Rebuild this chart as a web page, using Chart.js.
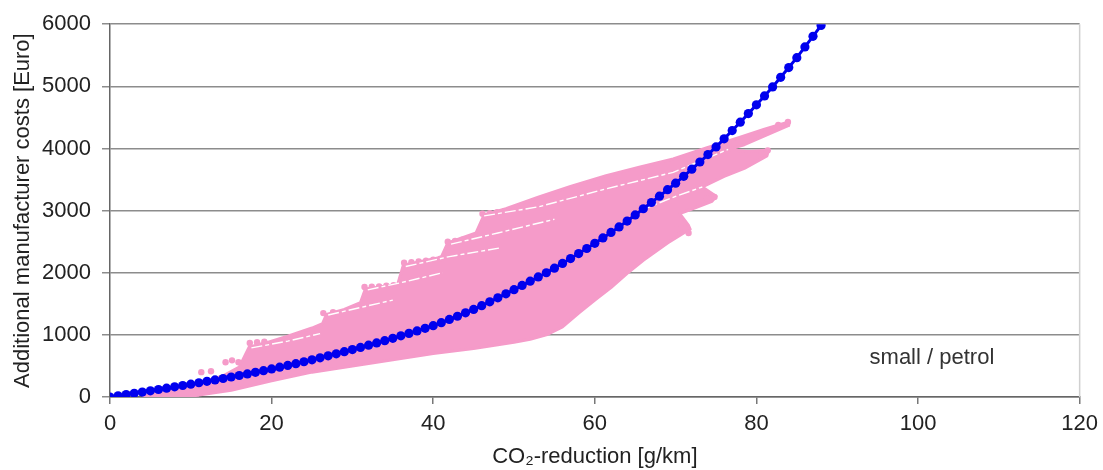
<!DOCTYPE html>
<html>
<head>
<meta charset="utf-8">
<script src="https://cdn.jsdelivr.net/npm/chart.js@4.4.1/dist/chart.umd.min.js"></script>
<style>
  html, body { margin: 0; padding: 0; background: #fff; }
  canvas { display: block; }
</style>
</head>
<body>
<canvas id="costChart" width="1103" height="470"></canvas>
<script>
// Blue curve: cost per CO2 reduction step (one point per g/km)
const curveX = [0,1,2,3,4,5,6,7,8,9,10,11,12,13,14,15,16,17,18,19,20,21,22,23,24,25,26,27,28,29,
    30,31,32,33,34,35,36,37,38,39,40,41,42,43,44,45,46,47,48,49,50,51,52,53,54,55,56,57,58,59,
    60,61,62,63,64,65,66,67,68,69,70,71,72,73,74,75,76,77,78,79,80,81,82,83,84,85,86,87,88];
const curveY = [0,20,40,60,80,100,121,142,163,185,207,229,252,275,298,322,346,371,397,424,
    452,480,508,537,567,598,630,662,695,729,763,798,834,870,907,945,984,1024,1064,1105,
    1148,1196,1248,1300,1355,1410,1470,1532,1596,1660,1727,1795,1864,1932,2000,2074,2150,2228,2308,2390,
    2474,2560,2648,2738,2832,2930,3030,3130,3232,3336,3442,3552,3666,3782,3902,4025,4155,4288,4423,4561,
    4702,4845,4990,5145,5302,5462,5635,5805,5980];

// Outline of the pink cloud of individual cases (upper edge, right-hand streak ends, lower edge)
const cloudX = [4,5,8,11,14,16,17.2,19.5,22,25,26.3,26.8,29,31,31.6,35.6,36.3,41,41.8,45.3,46.3,49,53,57,61.4,65.5,69.7,73.8,77.9,81,84,
    84,81.5,78.5,76.5,79,81.5,81.3,78.5,76,73.3,75,74.5,72.5,70.5,71.6,71.8,71,
    69,66,64,62,60,58,56,54,52,50,45,40,35,30,25,20,15,11,9,4];
const cloudY = [0,60,130,230,340,480,800,880,980,1110,1180,1330,1410,1520,1740,1810,2120,2250,2480,2640,2930,3030,3215,3390,3563,3700,3830,4010,4177,4310,4425,
    4370,4230,4060,3985,3950,3975,3880,3680,3550,3380,3230,3150,3050,2950,2760,2700,2640,
    2480,2200,1990,1760,1560,1350,1130,1000,930,880,780,700,600,500,400,260,110,30,0,0];

// Loose cases at the start of each streak
const looseX = [11.3,12.5,14.3,15.1,15.9,17.3,18.2,19.1,26.4,27.6,31.5,32.4,33.3,34.2,35.1,
    36.4,37.3,38.2,39.1,40,40.9,41.8,42.7,43.6,44.5,46.1,47,47.9,48.8,70.2,71.2,71.6,73.9,74.8,80.6,81.4,82.7,83.9];
const looseY = [400,415,560,590,560,870,880,890,1350,1365,1770,1775,1780,1790,1800,
    2160,2170,2180,2195,2210,2225,2500,2510,2530,2560,2950,2960,2975,2990,2700,2710,2640,3200,3220,3920,3970,4380,4425];

// White gaps between streaks, each starting at a streak tip
const gap1X = [46.3,53,61.4,69.7,76.5];
const gap1Y = [2915,3060,3350,3616,3985];
const gap2X = [42.2,48,55];
const gap2Y = [2460,2640,2860];
const gap3X = [36.6,42,48.3];
const gap3Y = [2100,2260,2400];
const gap4X = [31.9,36,41.2];
const gap4Y = [1725,1840,2000];
const gap5X = [27,31,35];
const gap5Y = [1320,1440,1560];
const gap6X = [17.5,22,26];
const gap6Y = [790,900,1020];
const gap7X = [65.6,70,73.3];
const gap7Y = [3000,3230,3380];

const xTicks = [0, 20, 40, 60, 80, 100, 120];
const yTicks = [0, 1000, 2000, 3000, 4000, 5000, 6000];

const pink = 'rgb(245,155,201)';
const blue = '#0000ee';
const font = "'Liberation Sans', Arial, sans-serif";

function toPoints(xs, ys) {
    return xs.map((x, i) => ({ x: x, y: ys[i] }));
}

function gapSet(xs, ys) {
    return {
        data: toPoints(xs, ys),
        borderColor: '#ffffff',
        borderWidth: 1.4,
        borderDash: [11, 3, 4, 3],
        pointRadius: 0,
        fill: false,
        order: 1
    };
}

// right frame line and the "small / petrol" note
const frameAndNote = {
    id: 'frameAndNote',
    beforeDatasetsDraw(chart) {
        const { ctx, chartArea } = chart;
        ctx.save();
        ctx.strokeStyle = '#d0d0d0';
        ctx.lineWidth = 1.5;
        ctx.beginPath();
        ctx.moveTo(chartArea.right, chartArea.top);
        ctx.lineTo(chartArea.right, chartArea.bottom);
        ctx.stroke();
        ctx.restore();
    },
    afterDatasetsDraw(chart) {
        const { ctx, scales } = chart;
        ctx.save();
        ctx.fillStyle = '#333';
        ctx.font = '22px ' + font;
        ctx.textAlign = 'left';
        ctx.textBaseline = 'middle';
        ctx.fillText('small / petrol', scales.x.getPixelForValue(94), scales.y.getPixelForValue(625));
        ctx.restore();
    }
};

new Chart(document.getElementById('costChart'), {
    type: 'line',
    data: {
        datasets: [
            {
                data: toPoints(curveX, curveY),
                borderColor: blue,
                backgroundColor: blue,
                borderWidth: 3,
                pointRadius: 4.6,
                pointBorderWidth: 0,
                fill: false,
                order: 0
            },
            gapSet(gap1X, gap1Y),
            gapSet(gap2X, gap2Y),
            gapSet(gap3X, gap3Y),
            gapSet(gap4X, gap4Y),
            gapSet(gap5X, gap5Y),
            gapSet(gap6X, gap6Y),
            gapSet(gap7X, gap7Y),
            {
                data: toPoints(looseX, looseY),
                showLine: false,
                pointRadius: 3.2,
                pointBorderWidth: 0,
                backgroundColor: pink,
                borderColor: pink,
                order: 2
            },
            {
                data: toPoints(cloudX, cloudY),
                borderColor: pink,
                backgroundColor: pink,
                borderWidth: 3,
                borderJoinStyle: 'round',
                pointRadius: 0,
                fill: 'shape',
                order: 3
            }
        ]
    },
    options: {
        responsive: false,
        animation: false,
        layout: {
            padding: { top: 23, right: 23, left: 0, bottom: 0 }
        },
        plugins: {
            legend: { display: false },
            tooltip: { enabled: false }
        },
        scales: {
            x: {
                type: 'linear',
                min: 0,
                max: 120,
                afterBuildTicks: scale => { scale.ticks = xTicks.map(v => ({ value: v })); },
                afterFit: scale => { scale.height = 73; },
                grid: {
                    drawOnChartArea: false,
                    drawTicks: true,
                    tickLength: 7,
                    color: '#777',
                    lineWidth: 1.5
                },
                border: { color: '#666', width: 1.5 },
                ticks: {
                    padding: 5,
                    color: '#222',
                    font: { size: 22, family: font, lineHeight: 1.4 },
                    callback: value => String(value)
                },
                title: {
                    display: true,
                    text: 'CO\u2082-reduction [g/km]',
                    color: '#222',
                    font: { size: 22, family: font },
                    padding: { top: 0, bottom: 0 }
                }
            },
            y: {
                min: 0,
                max: 6000,
                afterBuildTicks: scale => { scale.ticks = yTicks.map(v => ({ value: v })); },
                afterFit: scale => { scale.width = 110; },
                grid: {
                    color: '#8c8c8c',
                    lineWidth: 1.5,
                    tickLength: 8
                },
                border: { color: '#666', width: 1.5 },
                ticks: {
                    padding: 11,
                    color: '#222',
                    font: { size: 22, family: font },
                    callback: value => String(value)
                },
                title: {
                    display: true,
                    text: 'Additional manufacturer costs [Euro]',
                    color: '#222',
                    font: { size: 22, family: font },
                    padding: { top: 10, bottom: 0 }
                }
            }
        }
    },
    plugins: [frameAndNote]
});
</script>
</body>
</html>
